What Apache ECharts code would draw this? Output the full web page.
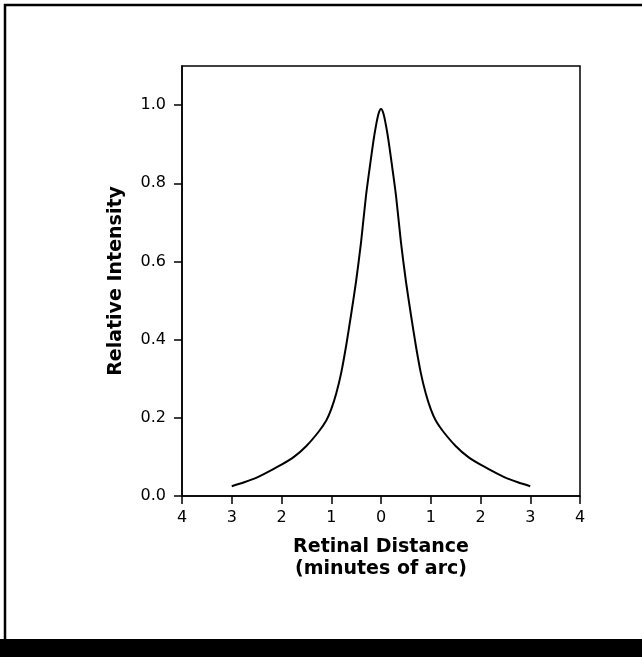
<!DOCTYPE html>
<html>
<head>
<meta charset="utf-8">
<script src="https://cdn.jsdelivr.net/npm/echarts@6/dist/echarts.min.js"></script>
<style>
html, body { margin: 0; padding: 0; background: #fff; }
#chart { width: 642px; height: 657px; }
</style>
</head>
<body>
<div id="chart"></div>
<script>
// distance from centre (minutes of arc)
var xDist = [-3.0, -2.75, -2.5, -2.25, -2.0, -1.75, -1.5, -1.25, -1.1, -1.0, -0.9, -0.8, -0.7, -0.6, -0.5, -0.4, -0.3, -0.2, -0.15, -0.1, -0.05,
  0, 0.05, 0.1, 0.15, 0.2, 0.3, 0.4, 0.5, 0.6, 0.7, 0.8, 0.9, 1.0, 1.1, 1.25, 1.5, 1.75, 2.0, 2.25, 2.5, 2.75, 3.0];
var intensity = [0.025, 0.035, 0.047, 0.063, 0.08, 0.10, 0.128, 0.165, 0.193, 0.222, 0.262, 0.315, 0.385, 0.465, 0.55, 0.65, 0.77, 0.865, 0.91, 0.948, 0.978,
  0.99, 0.978, 0.948, 0.91, 0.865, 0.77, 0.65, 0.55, 0.465, 0.385, 0.315, 0.262, 0.222, 0.193, 0.165, 0.128, 0.10, 0.08, 0.063, 0.047, 0.035, 0.025];
var xTicks = [-4, -3, -2, -1, 0, 1, 2, 3, 4];
var yTicks = [0, 0.2, 0.4, 0.6, 0.8, 1.0];

var pts = [];
for (var i = 0; i < xDist.length; i++) pts.push([xDist[i], intensity[i]]);

var chart = echarts.init(document.getElementById('chart'));
var titleFont = { fontFamily: '"DejaVu Sans", sans-serif', fontWeight: 'bold', fontSize: 19, color: '#000' };
var tickFont = { fontSize: 16, color: '#000', fontFamily: '"DejaVu Sans", sans-serif' };

chart.setOption({
  animation: false,
  backgroundColor: '#fff',
  grid: { left: 182, right: 62, top: 66, bottom: 161, show: true, borderColor: '#000', borderWidth: 1.5, backgroundColor: 'transparent' },
  graphic: [
    { type: 'rect', shape: { x: 5, y: 5, width: 645, height: 640 }, style: { fill: 'none', stroke: '#000', lineWidth: 2.5 } },
    { type: 'rect', shape: { x: 0, y: 639, width: 642, height: 18 }, style: { fill: '#000' } }
  ],
  xAxis: {
    type: 'value', min: xTicks[0], max: xTicks[xTicks.length - 1], interval: 1,
    name: 'Retinal Distance\n(minutes of arc)', nameLocation: 'middle', nameGap: 40,
    nameTextStyle: Object.assign({ lineHeight: 22 }, titleFont),
    axisLine: { onZero: false, lineStyle: { color: '#000', width: 1.5 } },
    axisTick: { inside: false, length: 8, lineStyle: { color: '#000', width: 1.5 } },
    axisLabel: Object.assign({ margin: 14, formatter: function (v) { return String(Math.abs(v)); } }, tickFont),
    splitLine: { show: false }
  },
  yAxis: {
    type: 'value', min: yTicks[0], max: 1.1, interval: 0.2,
    name: 'Relative Intensity', nameLocation: 'middle', nameGap: 56,
    nameTextStyle: titleFont,
    axisLine: { onZero: false, lineStyle: { color: '#000', width: 1.5 } },
    axisTick: { inside: false, length: 8, lineStyle: { color: '#000', width: 1.5 } },
    axisLabel: Object.assign({ margin: 16, showMaxLabel: false,
      formatter: function (v) { return v > 1.05 ? '' : v.toFixed(1); } }, tickFont),
    splitLine: { show: false }
  },
  series: [{
    type: 'line', data: pts, smooth: 0.25, showSymbol: false,
    lineStyle: { color: '#000', width: 2 }
  }]
});
</script>
</body>
</html>
